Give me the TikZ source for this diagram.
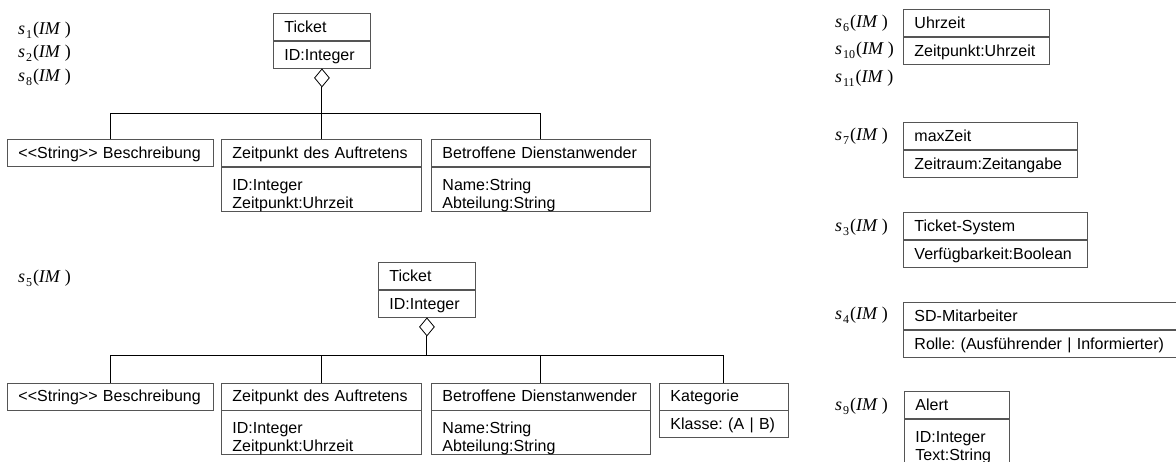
\documentclass[tikz,border=0pt]{standalone}
\usepackage{fontspec}
\setmainfont{Liberation Sans}
\newfontfamily\tnr{Liberation Serif}
\usetikzlibrary{shapes.geometric}
\definecolor{boxline}{HTML}{555555}
\newcommand\umlfont{\fontsize{16}{18}\selectfont\frenchspacing}
% stereotype brackets without the guillemet ligature
\newcommand\stereo[1]{{<}{<}#1{>}{>}}
% state label s_k(IM)
\newcommand\sIM[1]{{\tnr\fontsize{18}{18}\selectfont\textit{s}\kern0.8pt\raisebox{-4pt}{\fontsize{12}{12}\selectfont #1}\kern1pt(\textit{IM}\kern4pt)}}
\tikzset{
  cbase/.style={draw=boxline, line width=0.9pt, anchor=north west, inner xsep=11pt,
    inner ysep=0pt, align=left, font=\umlfont, text width={#1-22pt}},
  head/.style={cbase=#1, text height=19pt, text depth=8pt},
  one/.style={cbase=#1, text height=19pt, text depth=8pt},
  two/.style={cbase=#1, text height=23pt, text depth=21pt},
  agg/.style={diamond, draw=black, line width=0.8pt, fill=white, inner sep=0pt,
    minimum width=15pt, minimum height=18pt, anchor=north},
  conn/.style={draw=black, line width=1pt},
  lbl/.style={anchor=base west, inner sep=0pt},
}
\begin{document}
\begin{tikzpicture}[x=1pt, y=-1pt]
\useasboundingbox (0,0) rectangle (1176,461);
\clip (0,0) rectangle (1176,461);

% ---- first aggregation: Ticket
\node[lbl] (l1) at (18,34) {\sIM{1}};
\node[lbl] (l2) at (18,57.5) {\sIM{2}};
\node[lbl] (l8) at (18,81) {\sIM{8}};

\node[head=97pt] (t1h) at (273,12.7) {Ticket};
\node[one=97pt] (t1a) at (t1h.south west) {ID:Integer};
\node[agg] (d1) at (t1a.south) {};
\coordinate (bus1) at (0,113);

\node[head=206pt] (be1) at (7,139) {\stereo{String} Beschreibung};
\node[head=200pt] (ze1h) at (221,139) {Zeitpunkt des Auftretens};
\node[two=200pt] (ze1a) at (ze1h.south west) {ID:Integer\\Zeitpunkt:Uhrzeit};
\node[head=219pt] (bd1h) at (431,139) {Betroffene Dienstanwender};
\node[two=219pt] (bd1a) at (bd1h.south west) {Name:String\\Abteilung:String};

\draw[conn] (d1.south) -- (d1.south |- bus1);
\draw[conn] (be1.north) -- (be1.north |- bus1) -- (bd1h.north |- bus1) -- (bd1h.north);
\draw[conn] (ze1h.north) -- (ze1h.north |- bus1);

% ---- second aggregation: Ticket with Kategorie
\node[lbl] (l5) at (18,282) {\sIM{5}};

\node[head=97pt] (t2h) at (378,261.7) {Ticket};
\node[one=97pt] (t2a) at (t2h.south west) {ID:Integer};
\node[agg] (d2) at (t2a.south) {};
\coordinate (bus2) at (0,355.5);

\node[head=206pt] (be2) at (7,382.5) {\stereo{String} Beschreibung};
\node[head=200pt] (ze2h) at (221,382.5) {Zeitpunkt des Auftretens};
\node[two=200pt] (ze2a) at (ze2h.south west) {ID:Integer\\Zeitpunkt:Uhrzeit};
\node[head=219pt] (bd2h) at (431,382.5) {Betroffene Dienstanwender};
\node[two=219pt] (bd2a) at (bd2h.south west) {Name:String\\Abteilung:String};
\node[head=129pt] (ka2h) at (659,382.5) {Kategorie};
\node[one=129pt] (ka2a) at (ka2h.south west) {\mbox{Klasse: (A | B)}};

\draw[conn] (d2.south) -- (d2.south |- bus2);
\draw[conn] (be2.north) -- (be2.north |- bus2) -- (ka2h.north |- bus2) -- (ka2h.north);
\draw[conn] (ze2h.north) -- (ze2h.north |- bus2);
\draw[conn] (bd2h.north) -- (bd2h.north |- bus2);

% ---- single classes on the right
\node[lbl] (l6) at (835,27.5) {\sIM{6}};
\node[lbl] (l10) at (835,54) {\sIM{10}};
\node[lbl] (l11) at (835,82.5) {\sIM{11}};
\node[head=146pt] (uh) at (903,9.3) {Uhrzeit};
\node[one=146pt] (uha) at (uh.south west) {Zeitpunkt:Uhrzeit};

\node[lbl] (l7) at (835,140) {\sIM{7}};
\node[head=174pt] (mz) at (903,121.7) {maxZeit};
\node[one=174pt] (mza) at (mz.south west) {Zeitraum:Zeitangabe};

\node[lbl] (l3) at (835,231.5) {\sIM{3}};
\node[head=184pt] (ts) at (903,212.3) {Ticket-System};
\node[one=184pt] (tsa) at (ts.south west) {Verfügbarkeit:Boolean};

\node[lbl] (l4) at (835,319) {\sIM{4}};
\node[head=282pt] (sd) at (903,301.7) {SD-Mitarbeiter};
\node[one=282pt] (sda) at (sd.south west) {\mbox{Rolle: (Ausführender | Informierter)}};

\node[lbl] (l9) at (835,410) {\sIM{9}};
\node[head=105pt] (al) at (904,391) {Alert};
\node[two=105pt] (ala) at (al.south west) {ID:Integer\\Text:String};
\end{tikzpicture}
\end{document}
